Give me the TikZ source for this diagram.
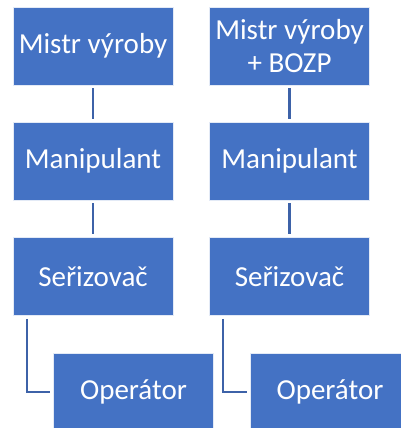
\documentclass[tikz,border=0pt]{standalone}
\usepackage{fontspec}
\setmainfont{Carlito}
\usepackage{tikz}
\definecolor{OrgBlue}{HTML}{4472C4}
\definecolor{LinkBlue}{HTML}{3D62A8}

\tikzset{
  role/.style={fill=OrgBlue, draw=white!85!OrgBlue, line width=0.6pt, text=white,
    minimum width=160pt, minimum height=78pt, inner sep=0pt, align=center,
    font=\fontsize{29}{33}\selectfont},
  link/.style={LinkBlue, line width=2.4pt, shorten <=3pt, shorten >=3pt}
}

\begin{document}
\begin{tikzpicture}[x=1pt, y=-1pt]
  \useasboundingbox (0,0) rectangle (401,428);
  \clip (0,0) rectangle (401,428);
  \fill[white] (0,0) rectangle (401,428);

  % left chain
  \node[role] (mistrA) at (93,46) {Mistr výroby};
  \node[role] (maniA) at (93,161) {Manipulant};
  \node[role] (serA) at (93,276.5) {Seřizovač};
  \node[role] (opA) at (133.5,392) {Operátor};

  % right chain
  \node[role] (mistrB) at (289.5,46) {Mistr výroby\\+ BOZP};
  \node[role] (maniB) at (289.5,161) {Manipulant};
  \node[role] (serB) at (289.5,276.5) {Seřizovač};
  \node[role] (opB) at (330,392) {Operátor};

  \draw[link] (mistrA) -- (maniA);
  \draw[link] (maniA) -- (serA);
  \draw[link] ([xshift=14pt]serA.south west) |- (opA.west);

  \draw[link] (mistrB) -- (maniB);
  \draw[link] (maniB) -- (serB);
  \draw[link] ([xshift=14pt]serB.south west) |- (opB.west);
\end{tikzpicture}
\end{document}
